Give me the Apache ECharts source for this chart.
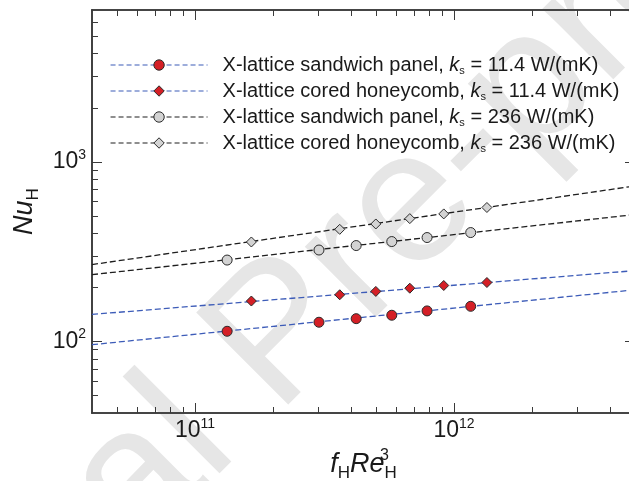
<!DOCTYPE html>
<html>
<head>
<meta charset="utf-8">
<script src="https://cdn.jsdelivr.net/npm/echarts@6/dist/echarts.min.js"></script>
<style>
html,body{margin:0;padding:0;background:#fff;}
#chart{width:629px;height:481px;}
</style>
</head>
<body>
<div id="chart"></div>
<script>
// ---- data ----
const xMin = 4e10, xMax = 5e12;
const yMin = 40, yMax = 7000;

const sandwichX = [1.33e11, 3.01e11, 4.19e11, 5.75e11, 7.87e11, 1.16e12];
const coredX    = [1.65e11, 3.62e11, 4.99e11, 6.75e11, 9.13e11, 1.34e12];

const sandwichLowY  = [114, 128, 134, 140, 148, 157];   // ks = 11.4
const coredLowY     = [168, 182, 190, 198, 205, 213];   // ks = 11.4
const sandwichHighY = [284, 323, 342, 360, 379, 404];   // ks = 236
const coredHighY    = [358, 421, 451, 483, 513, 557];   // ks = 236

// fitted (dashed) lines, read at the plot edges
const fitX = [4e10, 5e12];
const fitSandwichLow  = [96, 194];
const fitCoredLow     = [141.5, 248];
const fitSandwichHigh = [235.5, 509];
const fitCoredHigh    = [268, 734];

const xMajor = [1e11, 1e12];
const xMinor = [5e10, 6e10, 7e10, 8e10, 9e10, 2e11, 3e11, 4e11, 5e11, 6e11, 7e11, 8e11, 9e11, 2e12, 3e12, 4e12];
const yMajor = [100, 1000];
const yMinor = [50, 60, 70, 80, 90, 200, 300, 400, 500, 600, 700, 800, 900, 2000, 3000, 4000, 5000, 6000];

const seriesNames = [
  'X-lattice sandwich panel, ks = 11.4 W/(mK)',
  'X-lattice cored honeycomb, ks = 11.4 W/(mK)',
  'X-lattice sandwich panel, ks = 236 W/(mK)',
  'X-lattice cored honeycomb, ks = 236 W/(mK)'
];
const legendRich = {};
legendRich[seriesNames[0]] = 'X-lattice sandwich panel, {k|k}{s|s} = 11.4 W/(mK)';
legendRich[seriesNames[1]] = 'X-lattice cored honeycomb, {k|k}{s|s} = 11.4 W/(mK)';
legendRich[seriesNames[2]] = 'X-lattice sandwich panel, {k|k}{s|s} = 236 W/(mK)';
legendRich[seriesNames[3]] = 'X-lattice cored honeycomb, {k|k}{s|s} = 236 W/(mK)';

const watermarkText = 'Journal Pre-proof';

// ---- styles ----
const FONT = 'Liberation Sans, Arial, sans-serif';
const BLUE = '#3d5cb8';
const BLACK = '#1e1e1e';
const RED = '#d41f26';
const GRAY = '#d3d3d3';
const EDGE = '#2b2b2b';
const AXIS = '#3a3a3a';

function pair(xs, ys) { return xs.map((x, i) => [x, ys[i]]); }

const tickRich = {
  b: { fontSize: 23, lineHeight: 28, color: '#1a1a1a', fontFamily: FONT },
  s: { fontSize: 14, lineHeight: 14, verticalAlign: 'top', color: '#1a1a1a', fontFamily: FONT }
};
function powLabel(v) {
  const e = Math.round(Math.log10(v));
  return '{b|10}{s|' + e + '}';
}

function xAx(pos, ticks, len, withLabel, extra) {
  return Object.assign({
    type: 'log', logBase: 10, min: xMin, max: xMax, position: pos,
    axisLine: { show: true, lineStyle: { color: AXIS, width: 1.6 } },
    axisTick: { show: true, inside: true, length: len, customValues: ticks, lineStyle: { color: AXIS, width: 1 } },
    axisLabel: withLabel ? { show: true, customValues: ticks, formatter: powLabel, rich: tickRich, margin: 4 } : { show: false },
    splitLine: { show: false }, minorTick: { show: false }
  }, extra || {});
}
function yAx(pos, ticks, len, withLabel, extra) {
  return Object.assign({
    type: 'log', logBase: 10, min: yMin, max: yMax, position: pos,
    axisLine: { show: true, lineStyle: { color: AXIS, width: 1.6 } },
    axisTick: { show: true, inside: true, length: len, customValues: ticks, lineStyle: { color: AXIS, width: 1 } },
    axisLabel: withLabel ? { show: true, customValues: ticks, formatter: powLabel, rich: tickRich, margin: 6 } : { show: false },
    splitLine: { show: false }, minorTick: { show: false }
  }, extra || {});
}

const nameRichX = {
  i: { fontStyle: 'italic', fontSize: 27, lineHeight: 34, color: '#1a1a1a', fontFamily: FONT },
  sub: { fontSize: 17, lineHeight: 14, verticalAlign: 'bottom', color: '#1a1a1a', fontFamily: FONT },
  sup: { fontSize: 16, lineHeight: 14, verticalAlign: 'top', width: 0, align: 'left', color: '#1a1a1a', fontFamily: FONT }
};

const chart = echarts.init(document.getElementById('chart'), null, { renderer: 'canvas' });

function markerSeries(name, xs, ys, sym, fill, lineColor) {
  return {
    name: name, type: 'line', xAxisIndex: 0, yAxisIndex: 0,
    data: pair(xs, ys), symbol: sym, symbolSize: 10, showSymbol: true, showAllSymbol: true,
    lineStyle: { color: lineColor, width: 1, opacity: 0 },
    itemStyle: { color: fill, borderColor: EDGE, borderWidth: 1 },
    z: 5, animation: false, emphasis: { disabled: true }
  };
}
function fitSeries(name, ys, color) {
  return {
    name: name, type: 'line', xAxisIndex: 0, yAxisIndex: 0,
    data: pair(fitX, ys), symbol: 'none',
    lineStyle: { color: color, width: 1.3, type: [6, 3] },
    z: 3, animation: false, silent: true
  };
}

chart.setOption({
  animation: false,
  backgroundColor: '#ffffff',
  textStyle: { fontFamily: FONT },
  grid: { left: 92, top: 10, right: -6, bottom: 68, outerBoundsMode: 'none', containLabel: false },
  graphic: [{
    type: 'text', z: -10, silent: true,
    x: -235, y: 854, rotation: Math.PI / 4,
    style: { text: watermarkText, font: '189px "Liberation Sans", Arial, sans-serif', fill: '#e6e6e6', textAlign: 'left', verticalAlign: 'middle' }
  }],
  legend: {
    orient: 'vertical', left: 110, top: 54, padding: 0,
    itemWidth: 97, itemHeight: 13, itemGap: 4,
    selectedMode: false,
    data: seriesNames,
    formatter: function (n) { return legendRich[n]; },
    lineStyle: { type: [5, 3], width: 1.1, opacity: 1 },
    itemStyle: { borderWidth: 1, borderColor: EDGE },
    textStyle: {
      fontSize: 20, color: '#1a1a1a', fontFamily: FONT, lineHeight: 22, padding: [0, 0, 0, 10],
      rich: {
        k: { fontStyle: 'italic', fontSize: 20, lineHeight: 22, color: '#1a1a1a', fontFamily: FONT },
        s: { fontSize: 11, lineHeight: 10, verticalAlign: 'bottom', color: '#1a1a1a', fontFamily: FONT }
      }
    }
  },
  xAxis: [
    xAx('bottom', xMajor, 10, true, {
      name: '{i|f}{sub|H}{i|Re}{sup|3}{sub|H}', nameLocation: 'middle', nameGap: 16,
      nameTextStyle: { rich: nameRichX }
    }),
    xAx('bottom', xMinor, 6, false),
    xAx('top', xMajor, 10, false),
    xAx('top', xMinor, 6, false)
  ],
  yAxis: [
    yAx('left', yMajor, 10, true, {
      name: '{i|Nu}{sub|H}', nameLocation: 'middle', nameGap: 44, nameRotate: 90,
      nameTextStyle: { rich: nameRichX }
    }),
    yAx('left', yMinor, 6, false),
    yAx('right', yMajor, 10, false),
    yAx('right', yMinor, 6, false)
  ],
  series: [
    fitSeries('fit1', fitSandwichLow, BLUE),
    fitSeries('fit2', fitCoredLow, BLUE),
    fitSeries('fit3', fitSandwichHigh, BLACK),
    fitSeries('fit4', fitCoredHigh, BLACK),
    markerSeries(seriesNames[0], sandwichX, sandwichLowY, 'circle', RED, BLUE),
    markerSeries(seriesNames[1], coredX, coredLowY, 'diamond', RED, BLUE),
    markerSeries(seriesNames[2], sandwichX, sandwichHighY, 'circle', GRAY, BLACK),
    markerSeries(seriesNames[3], coredX, coredHighY, 'diamond', GRAY, BLACK)
  ]
});
</script>
</body>
</html>
